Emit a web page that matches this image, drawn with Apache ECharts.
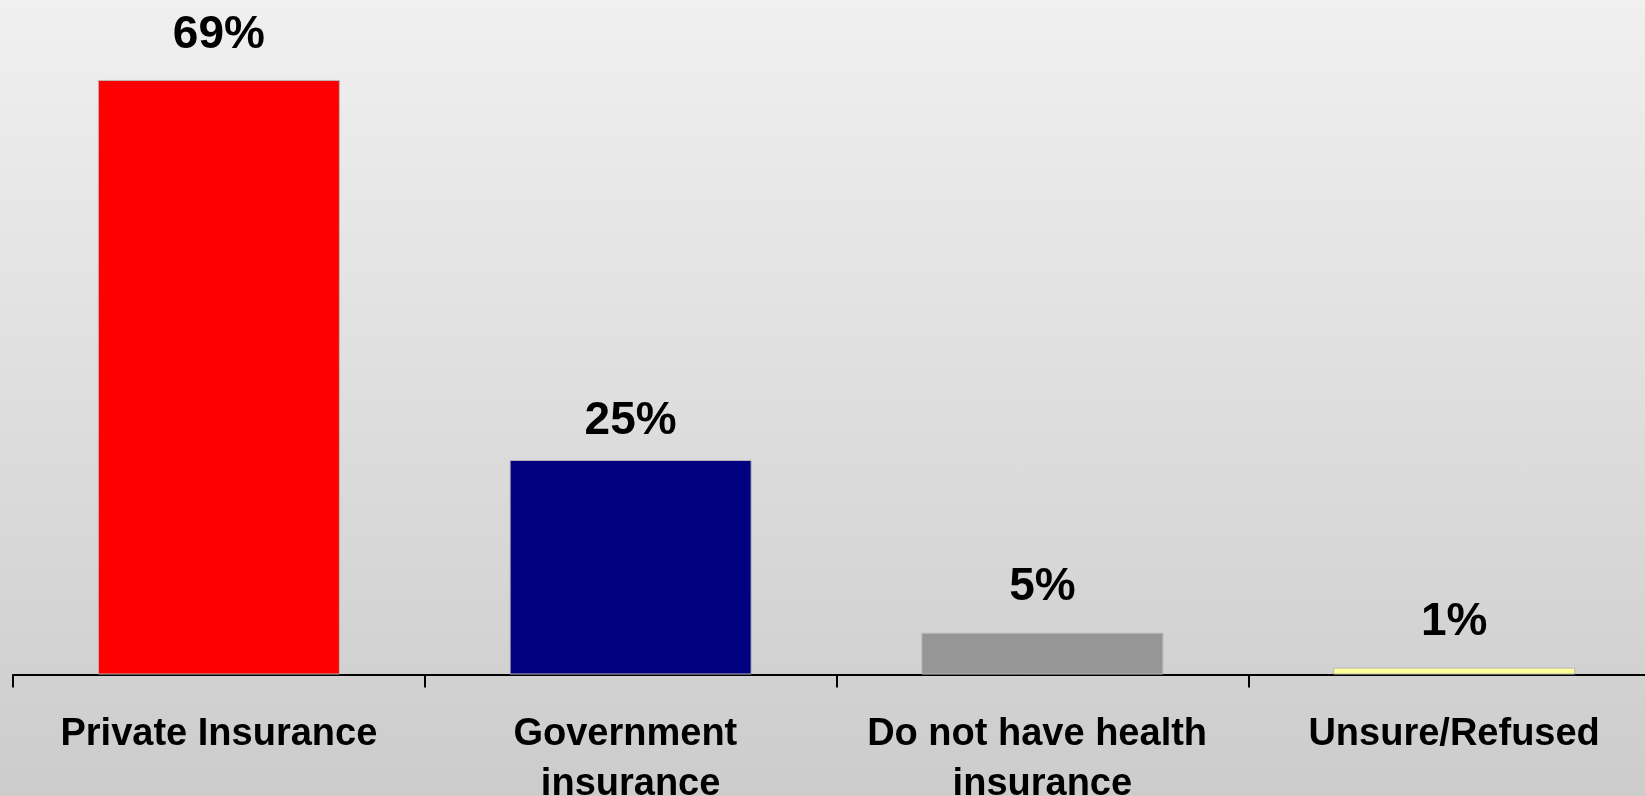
<!DOCTYPE html>
<html>
<head>
<meta charset="utf-8">
<script src="https://cdn.jsdelivr.net/npm/echarts@6/dist/echarts.min.js"></script>
<style>
html,body{margin:0;padding:0;}
#c{width:1645px;height:796px;background:linear-gradient(to bottom,#f0f0f0 0%,#cccccc 100%);}
</style>
</head>
<body>
<div id="c"></div>
<script>
var categories = ['Private Insurance', 'Government insurance', 'Do not have health insurance', 'Unsure/Refused'];
var values = [69, 24.9, 4.85, 0.8];
var valueLabels = ['69%', '25%', '5%', '1%'];
var barColors = ['#ff0000', '#000080', '#969696', '#ffff99'];
var labelGaps = [22, 16, 22, 22];

var chart = echarts.init(document.getElementById('c'), null, {renderer: 'canvas'});
chart.setOption({
  backgroundColor: 'transparent',
  animation: false,
  grid: {left: 13, top: 2.4, width: 1647, bottom: 121.5, containLabel: false, outerBoundsMode: 'none'},
  xAxis: {
    type: 'category',
    data: categories,
    axisLine: {show: true, lineStyle: {color: '#000', width: 2}},
    axisTick: {show: true, alignWithLabel: false, length: 13, lineStyle: {color: '#000', width: 2}},
    axisLabel: {
      interval: 0, margin: 35, color: '#000', fontSize: 38, fontWeight: 'bold',
      fontFamily: 'Liberation Sans, Arial, sans-serif', lineHeight: 50,
      width: 400, overflow: 'break'
    }
  },
  yAxis: {
    type: 'value', min: 0, max: 78,
    axisLine: {show: false}, axisTick: {show: false}, axisLabel: {show: false}, splitLine: {show: false}
  },
  series: [{
    type: 'bar',
    barWidth: 242,
    data: values.map(function (v, i) {
      return {
        value: v,
        itemStyle: {color: barColors[i], borderColor: '#b8b8b8', borderWidth: 1},
        label: {distance: labelGaps[i]}
      };
    }),
    label: {
      show: true, position: 'top', distance: 22,
      formatter: function (p) { return valueLabels[p.dataIndex]; },
      color: '#000', fontSize: 46, fontWeight: 'bold', fontFamily: 'Liberation Sans, Arial, sans-serif'
    }
  }]
});
</script>
</body>
</html>
